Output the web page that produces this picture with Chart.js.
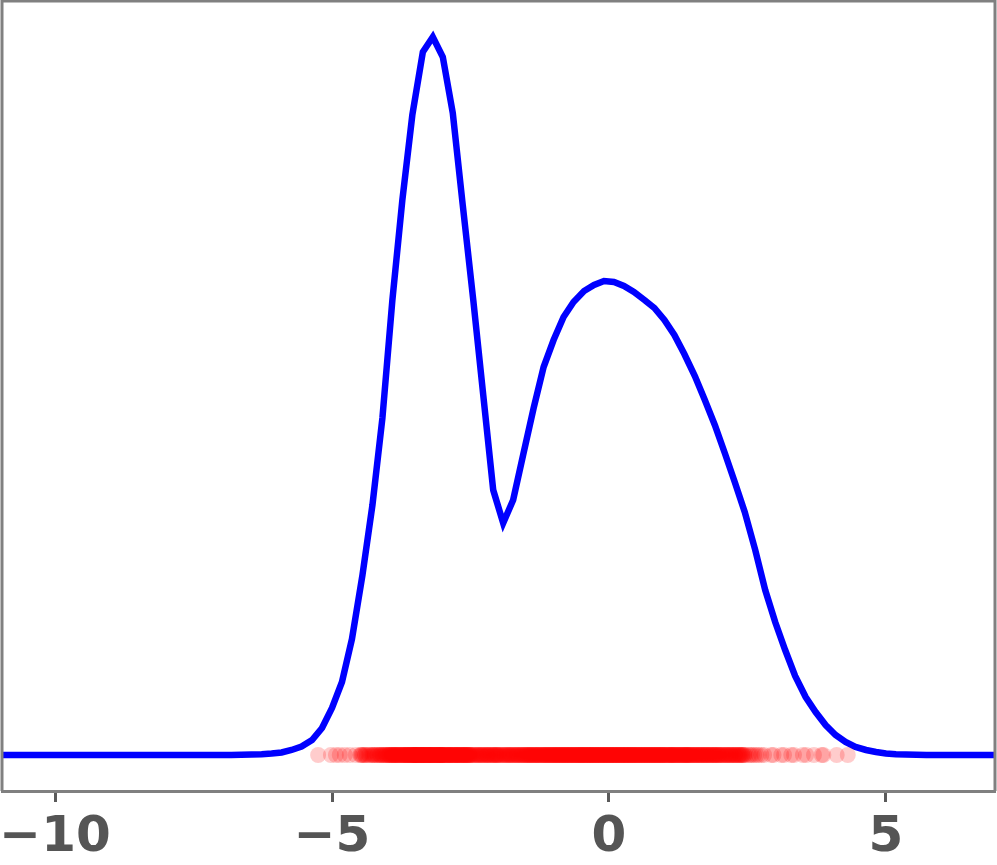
<!DOCTYPE html>
<html>
<head>
<meta charset="utf-8">
<script src="https://cdn.jsdelivr.net/npm/chart.js@4.4.1/dist/chart.umd.min.js"></script>
<style>
  html, body { margin: 0; padding: 0; background: #fff; }
  #wrap { width: 997px; height: 865px; }
</style>
</head>
<body>
<div id="wrap"><canvas id="chart" width="997" height="865"></canvas></div>
<script>
// evaluation grid of the density curve
const gridX = [
  -11.00, -10.82, -10.64, -10.45, -10.27, -10.09, -9.91, -9.73, -9.55, -9.36, -9.18,
  -9.00, -8.82, -8.64, -8.45, -8.27, -8.09, -7.91, -7.73, -7.55, -7.36, -7.18,
  -7.00, -6.82, -6.64, -6.45, -6.27, -6.09, -5.91, -5.73, -5.55, -5.36, -5.18,
  -5.00, -4.82, -4.64, -4.45, -4.27, -4.09, -3.91, -3.73, -3.55, -3.36, -3.18,
  -3.00, -2.82, -2.64, -2.45, -2.27, -2.09, -1.91, -1.73, -1.55, -1.36, -1.18,
  -1.00, -0.82, -0.64, -0.45, -0.27, -0.09, 0.09, 0.27, 0.45, 0.64, 0.82,
  1.00, 1.18, 1.36, 1.55, 1.73, 1.91, 2.09, 2.27, 2.45, 2.64, 2.82,
  3.00, 3.18, 3.36, 3.55, 3.73, 3.91, 4.09, 4.27, 4.45, 4.64, 4.82,
  5.00, 5.18, 5.36, 5.55, 5.73, 5.91, 6.09, 6.27, 6.45, 6.64, 6.82, 7.00
];

// density values
const density = [
  0, 0, 0, 0, 0, 0, 0, 0, 0, 0, 0,
  0, 0, 0, 0, 0, 0, 0, 0, 0, 0, 0,
  0, 0.0000, 0.0001, 0.0002, 0.0003, 0.0006, 0.0010, 0.0020, 0.0034, 0.0060, 0.0108,
  0.0188, 0.0292, 0.0464, 0.0720, 0.1000, 0.1348, 0.1820, 0.2220, 0.2560, 0.2812, 0.2872,
  0.2792, 0.2568, 0.2200, 0.1820, 0.1440, 0.1060, 0.0928, 0.1020, 0.1200, 0.1388, 0.1552,
  0.1660, 0.1752, 0.1812, 0.1856, 0.1880, 0.1896, 0.1892, 0.1876, 0.1852, 0.1820, 0.1788,
  0.1740, 0.1680, 0.1604, 0.1516, 0.1420, 0.1320, 0.1208, 0.1092, 0.0972, 0.0820, 0.0660,
  0.0532, 0.0420, 0.0316, 0.0232, 0.0172, 0.0120, 0.0080, 0.0052, 0.0032, 0.0020, 0.0012,
  0.0006, 0.0003, 0.0002, 0.0001, 0, 0, 0, 0, 0, 0, 0, 0
];

// the samples themselves (rug along y = 0)
const samples = [
  -5.25, -5.02, -4.93, -4.86, -4.77, -4.68, -4.57, -4.49,
  -4.46, -4.41, -4.40, -4.34, -4.29, -4.27, -4.22, -4.19, -4.18, -4.12, -4.09, -4.08, -4.03, -4.01,
  -4.475, -4.437, -4.372, -4.318, -4.255, -4.236, -4.152, -4.141, -4.115, -4.064, -4.052, -4.021,
  -3.99, -3.97, -3.96, -3.93, -3.91, -3.90, -3.88, -3.85, -3.84, -3.82, -3.80, -3.79, -3.76, -3.75, -3.73,
  -3.71, -3.70, -3.68, -3.66, -3.65, -3.63, -3.61, -3.60, -3.58, -3.57, -3.55, -3.54, -3.53, -3.52, -3.51,
  -3.985, -3.962, -3.944, -3.921, -3.903, -3.874, -3.862, -3.836, -3.811, -3.795, -3.778, -3.742, -3.724,
  -3.716, -3.694, -3.672, -3.655, -3.638, -3.622, -3.594, -3.585, -3.566, -3.548, -3.537, -3.522, -3.514,
  -3.507, -3.503, -3.634, -3.871,
  -3.49, -3.48, -3.47, -3.45, -3.44, -3.43, -3.42, -3.40, -3.39, -3.38, -3.36, -3.35, -3.34, -3.33,
  -3.31, -3.30, -3.29, -3.27, -3.26, -3.25, -3.24, -3.22, -3.21, -3.20, -3.19, -3.17, -3.16, -3.14,
  -3.13, -3.12, -3.10, -3.09, -3.08, -3.06, -3.05, -3.04, -3.03, -3.02, -3.01, -3.00,
  -3.495, -3.486, -3.473, -3.462, -3.451, -3.436, -3.418, -3.405, -3.392, -3.374, -3.366, -3.352, -3.344,
  -3.327, -3.318, -3.304, -3.283, -3.275, -3.262, -3.243, -3.236, -3.218, -3.205, -3.187, -3.176, -3.158,
  -3.147, -3.133, -3.116, -3.104, -3.092, -3.078, -3.066, -3.054, -3.037, -3.025, -3.014, -3.006, -3.228, -3.386,
  -2.98, -2.97, -2.95, -2.94, -2.92, -2.91, -2.89, -2.88, -2.86, -2.84, -2.83, -2.81, -2.79, -2.78, -2.76,
  -2.74, -2.73, -2.71, -2.69, -2.68, -2.66, -2.64, -2.62, -2.61, -2.59, -2.57, -2.56, -2.54, -2.52, -2.51,
  -2.993, -2.968, -2.945, -2.926, -2.905, -2.884, -2.867, -2.846, -2.823, -2.805, -2.786, -2.764, -2.746, -2.727,
  -2.706, -2.684, -2.667, -2.645, -2.628, -2.604, -2.586, -2.563, -2.547, -2.528, -2.514, -2.873, -2.738, -2.615,
  -2.48, -2.45, -2.43, -2.40, -2.37, -2.35, -2.31, -2.29, -2.26, -2.23, -2.20, -2.18, -2.15, -2.12, -2.09, -2.07, -2.04, -2.02,
  -2.492, -2.466, -2.418, -2.387, -2.356, -2.328, -2.304, -2.276, -2.245, -2.214, -2.193, -2.166, -2.138, -2.104,
  -2.081, -2.056, -2.032, -2.011,
  -1.98, -1.95, -1.93, -1.90, -1.87, -1.84, -1.81, -1.79, -1.76, -1.73, -1.70, -1.67, -1.65, -1.62, -1.59, -1.57, -1.54, -1.52,
  -1.992, -1.966, -1.914, -1.886, -1.856, -1.826, -1.797, -1.774, -1.745, -1.716, -1.688, -1.664, -1.636, -1.606,
  -1.584, -1.556, -1.528, -1.506,
  -1.49, -1.47, -1.45, -1.43, -1.41, -1.39, -1.36, -1.34, -1.32, -1.30, -1.28, -1.26,
  -1.23, -1.21, -1.19, -1.17, -1.15, -1.13, -1.11, -1.09, -1.07, -1.05, -1.03, -1.01,
  -1.484, -1.462, -1.437, -1.418, -1.394, -1.375, -1.352, -1.327, -1.306, -1.284, -1.266, -1.244,
  -1.218, -1.196, -1.176, -1.154, -1.136, -1.116, -1.094, -1.076, -1.056, -1.038, -1.017, -1.006,
  -0.99, -0.97, -0.95, -0.94, -0.92, -0.90, -0.88, -0.86, -0.84, -0.83, -0.81, -0.79, -0.77, -0.75,
  -0.73, -0.72, -0.70, -0.68, -0.66, -0.64, -0.63, -0.61, -0.59, -0.57, -0.55, -0.54, -0.52, -0.50,
  -0.984, -0.962, -0.946, -0.926, -0.908, -0.894, -0.872, -0.854, -0.836, -0.818, -0.796, -0.784, -0.764, -0.744,
  -0.726, -0.708, -0.694, -0.674, -0.652, -0.636, -0.618, -0.602, -0.584, -0.566, -0.548, -0.534, -0.516, -0.506,
  -0.49, -0.47, -0.46, -0.44, -0.42, -0.41, -0.39, -0.37, -0.36, -0.34, -0.33, -0.31, -0.29, -0.28, -0.26,
  -0.24, -0.23, -0.21, -0.19, -0.18, -0.16, -0.14, -0.13, -0.11, -0.09, -0.08, -0.06, -0.04, -0.03, -0.01,
  -0.486, -0.474, -0.456, -0.436, -0.426, -0.404, -0.386, -0.376, -0.356, -0.344, -0.326, -0.304, -0.296, -0.276, -0.256,
  -0.246, -0.226, -0.204, -0.196, -0.176, -0.156, -0.146, -0.126, -0.104, -0.096, -0.074, -0.056, -0.046, -0.026, -0.006,
  0.01, 0.02, 0.04, 0.06, 0.07, 0.09, 0.11, 0.12, 0.14, 0.16, 0.17, 0.19, 0.21, 0.22, 0.24,
  0.26, 0.27, 0.29, 0.31, 0.32, 0.34, 0.36, 0.37, 0.39, 0.41, 0.42, 0.44, 0.46, 0.47, 0.49,
  0.004, 0.026, 0.036, 0.054, 0.076, 0.086, 0.104, 0.126, 0.136, 0.154, 0.176, 0.186, 0.204, 0.226, 0.236,
  0.254, 0.276, 0.286, 0.304, 0.326, 0.336, 0.354, 0.376, 0.386, 0.404, 0.426, 0.436, 0.454, 0.476, 0.494,
  0.51, 0.53, 0.54, 0.56, 0.58, 0.60, 0.61, 0.63, 0.65, 0.67, 0.69, 0.70, 0.72, 0.74,
  0.76, 0.78, 0.79, 0.81, 0.83, 0.85, 0.87, 0.88, 0.90, 0.92, 0.94, 0.96, 0.97, 0.99,
  0.504, 0.524, 0.546, 0.564, 0.586, 0.594, 0.614, 0.636, 0.656, 0.676, 0.684, 0.706, 0.726, 0.746,
  0.766, 0.774, 0.796, 0.816, 0.836, 0.856, 0.864, 0.886, 0.906, 0.926, 0.946, 0.954, 0.976, 0.994,
  1.01, 1.03, 1.05, 1.07, 1.09, 1.11, 1.13, 1.14, 1.16, 1.18, 1.20, 1.22, 1.24,
  1.26, 1.28, 1.30, 1.32, 1.34, 1.36, 1.38, 1.40, 1.41, 1.43, 1.45, 1.47, 1.49,
  1.016, 1.036, 1.056, 1.076, 1.096, 1.116, 1.126, 1.146, 1.166, 1.186, 1.206, 1.226, 1.246,
  1.266, 1.286, 1.306, 1.326, 1.346, 1.366, 1.386, 1.396, 1.416, 1.436, 1.456, 1.476, 1.496,
  1.51, 1.54, 1.56, 1.58, 1.60, 1.63, 1.65, 1.67, 1.69, 1.72, 1.74,
  1.76, 1.78, 1.81, 1.83, 1.85, 1.88, 1.90, 1.92, 1.94, 1.97, 1.99,
  1.526, 1.546, 1.566, 1.586, 1.614, 1.636, 1.656, 1.676, 1.706, 1.726, 1.746,
  1.768, 1.796, 1.816, 1.836, 1.864, 1.886, 1.906, 1.926, 1.956, 1.976, 1.996,
  2.02, 2.04, 2.07, 2.10, 2.12, 2.15, 2.18, 2.20, 2.23, 2.26, 2.28, 2.31, 2.34, 2.36, 2.39, 2.41, 2.44, 2.47,
  2.026, 2.054, 2.086, 2.114, 2.136, 2.166, 2.194, 2.216, 2.246, 2.274, 2.296, 2.326, 2.354, 2.376, 2.406, 2.436,
  2.52, 2.55, 2.58, 2.62, 2.66, 2.70, 2.75, 2.80, 2.93, 2.97, 3.11, 3.16, 3.29, 3.34, 3.50, 3.56,
  3.70, 3.84, 3.87, 4.11, 4.31
];

const xTicks = [-10, -5, 0, 5];

const curvePoints = gridX.map((x, i) => ({ x: x, y: density[i] }));
const rugPoints = samples.map(x => ({ x: x, y: 0 }));

// left / top / right spines
const framePlugin = {
    id: 'frame',
    afterDraw(chart) {
        const { ctx, chartArea } = chart;
        ctx.save();
        ctx.strokeStyle = '#808080';
        ctx.lineWidth = 3;
        ctx.beginPath();
        ctx.moveTo(chartArea.left, chartArea.bottom);
        ctx.lineTo(chartArea.left, chartArea.top);
        ctx.lineTo(chartArea.right, chartArea.top);
        ctx.lineTo(chartArea.right, chartArea.bottom);
        ctx.stroke();
        ctx.restore();
    }
};

const ctx = document.getElementById('chart').getContext('2d');
const chart = new Chart(ctx, {
    type: 'scatter',
    data: {
        datasets: [
            {
                type: 'scatter',
                data: rugPoints,
                backgroundColor: 'rgba(255, 0, 0, 0.2)',
                borderWidth: 0,
                pointRadius: 8,
                order: 0,
            },
            {
                type: 'line',
                data: curvePoints,
                borderColor: '#0000ff',
                borderWidth: 6.5,
                pointRadius: 0,
                tension: 0,
                fill: false,
                order: 1,
            },
        ],
    },
    options: {
        responsive: false,
        animation: false,
        devicePixelRatio: 1,
        layout: {
            autoPadding: false,
            padding: { left: 2, right: 2, top: 1, bottom: 0 },
        },
        plugins: {
            legend: { display: false },
            tooltip: { enabled: false },
        },
        scales: {
            x: {
                type: 'linear',
                min: -10.957,
                max: 6.968,
                afterBuildTicks: function (axis) {
                    axis.ticks = xTicks.map(v => ({ value: v }));
                },
                afterFit: function (axis) {
                    axis.height = 74;
                    axis.paddingLeft = 0;
                    axis.paddingRight = 0;
                },
                ticks: {
                    color: '#555555',
                    padding: 6,
                    font: {
                        family: 'DejaVu Sans',
                        size: 50,
                        weight: 'bold',
                    },
                    callback: function (value) {
                        return value < 0 ? '\u2212' + Math.abs(value) : String(value);
                    },
                },
                grid: {
                    display: true,
                    drawOnChartArea: false,
                    drawTicks: true,
                    tickLength: 11,
                    tickWidth: 3,
                    tickColor: '#5a5a5a',
                },
                border: {
                    display: true,
                    color: '#808080',
                    width: 3,
                },
            },
            y: {
                display: false,
                min: -0.0144,
                max: 0.3016,
            },
        },
    },
    plugins: [framePlugin],
});
</script>
</body>
</html>
